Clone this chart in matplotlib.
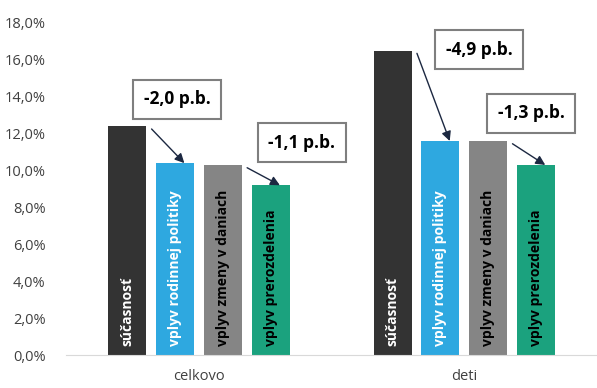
import numpy as np
import matplotlib.pyplot as plt

plt.rcParams['font.family'] = ['Open Sans', 'DejaVu Sans']

groups = ['celkovo', 'deti']
series = ['súčasnosť', 'vplyv rodinnej politiky', 'vplyv zmeny v daniach', 'vplyv prerozdelenia']
values = {
    'súčasnosť': [12.4, 16.5],
    'vplyv rodinnej politiky': [10.4, 11.6],
    'vplyv zmeny v daniach': [10.3, 11.6],
    'vplyv prerozdelenia': [9.2, 10.3],
}
colors = ['#333333', '#2EA8E0', '#858585', '#1BA27E']
text_colors = ['white', 'white', 'black', 'black']

# annotations: (group index, from series, to series, label, box x, box y)
notes = [
    (0, 0, 1, '-2,0 p.b.', -0.083, 13.85),
    (0, 2, 3, '-1,1 p.b.', 0.387, 11.5),
    (1, 0, 1, '-4,9 p.b.', 1.055, 16.55),
    (1, 2, 3, '-1,3 p.b.', 1.252, 13.1),
]

fig = plt.figure(figsize=(5.97, 3.88), dpi=100)
ax = fig.add_axes([0.111, 0.085, 0.889, 0.856])

x = np.arange(len(groups))
w = 0.143
step = 0.18
offsets = (np.arange(len(series)) - 1.5) * step

for i, s in enumerate(series):
    ax.bar(x + offsets[i], values[s], width=w, color=colors[i], zorder=2)
    for g in range(len(groups)):
        ax.text(x[g] + offsets[i], 0.5, s, rotation=90, ha='center', va='bottom',
                color=text_colors[i], fontsize=10, fontweight='bold', zorder=3)

for g, a, b, label, bx, by in notes:
    ya = values[series[a]][g]
    yb = values[series[b]][g]
    x0 = x[g] + offsets[a] + w / 2 + 0.02
    x1 = x[g] + offsets[b] + 0.035
    ax.annotate('', xy=(x1, yb), xytext=(x0, ya - 0.15),
                arrowprops=dict(arrowstyle='-|>', color='#1c2841', lw=1.0,
                                mutation_scale=14, shrinkA=0, shrinkB=0), zorder=4)
    ax.text(bx, by, label, ha='center', va='center', fontsize=12.5, fontweight='bold',
            bbox=dict(boxstyle='square,pad=0.6', fc='white', ec='#7f7f7f', lw=1.5), zorder=5)

ax.set_xlim(-0.5, 1.5)
ax.set_ylim(0, 18)
ax.set_yticks(np.arange(0, 19, 2))
ax.set_yticklabels([f'{v:.1f}%'.replace('.', ',') for v in np.arange(0, 19, 2)])
ax.set_xticks(x)
ax.set_xticklabels(groups)
ax.tick_params(length=0, labelsize=10.5, colors='#404040')
ax.tick_params(axis='x', pad=10)
ax.tick_params(axis='y', pad=15)
for sp in ['top', 'right', 'left']:
    ax.spines[sp].set_visible(False)
ax.spines['bottom'].set_color('#d9d9d9')

plt.savefig('out.png', dpi=100)
